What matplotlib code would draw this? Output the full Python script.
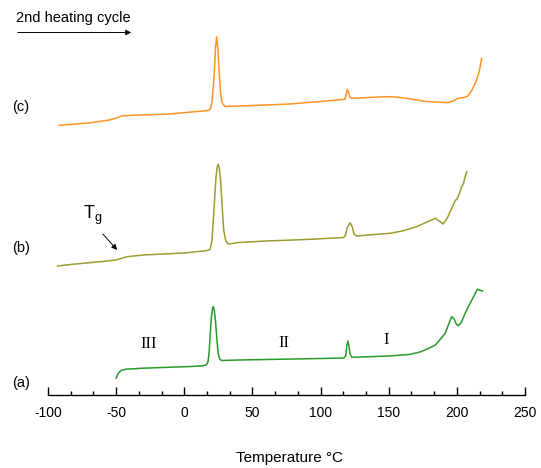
import matplotlib
matplotlib.use("Agg")
import matplotlib.pyplot as plt
from matplotlib.ticker import MultipleLocator

plt.rcParams['font.family'] = ['Liberation Sans', 'DejaVu Sans']

# Curve (a) - green
temp_a = [-50, -48.5, -46.5, -43, -30, -10, 5, 14,
          16.5, 17.5, 18.3, 18.9, 19.9, 20.7, 21.3, 22.0, 22.9, 23.8, 24.8, 26.0, 27.4,
          40, 60, 80, 100, 117,
          118.5, 119.2, 120, 120.8, 121.6, 123,
          130, 150, 165, 173, 179, 184.3, 188, 191.6, 194, 196.2, 198, 199.5, 201,
          203, 207.2, 211, 215, 216.5, 218.9]
sig_a = [15, 19.5, 22.5, 23.8, 24.8, 25.8, 26.5, 27.3,
         28.5, 32, 42, 56, 76, 84.5, 86.3, 83, 72, 56, 40, 34, 32.5,
         33, 33.5, 34, 34.5, 35,
         37, 47, 52, 47, 39, 35.7,
         36, 37, 38.5, 41, 44.5, 48, 54, 60, 69, 76.3, 74, 69, 67.3,
         70, 83, 93, 103.7, 103, 102]

# Curve (b) - olive
temp_b = [-93, -80, -60, -50, -42, -30, 0, 16,
          18.9, 20.3, 21.9, 23.2, 24.2, 24.9, 25.7, 26.7, 27.8, 29, 30.5, 32.3,
          40, 60, 80, 97, 110, 117,
          118.3, 119.5, 121.6, 123.3, 124.5, 126.5,
          140, 151, 160, 170.5, 178, 184.3, 187, 190, 193, 195, 197.4, 199, 200,
          202.3, 203.5, 205, 206, 207.2]
sig_b = [127, 129, 131.5, 133, 136.3, 138, 140, 142.3,
         143.5, 152, 186, 215, 226, 228.7, 225, 212, 186, 162, 152, 149,
         150.5, 152, 153, 154, 155, 155.5,
         158, 165, 170.3, 166, 159, 157,
         158.5, 159.7, 162, 166.3, 171, 174.7, 172, 169, 175, 181, 188, 193, 193.5,
         201.3, 206, 210, 216, 221.3]

# Curve (c) - orange
temp_c = [-92, -70, -55, -50, -45, -30, -10.5, 5, 16.4,
          18.9, 20.3, 21.2, 22.0, 22.9, 23.8, 24.6, 25.7, 26.6, 27.8, 29.9,
          50, 77.5, 100, 117.9,
          118.5, 119.6, 120.6, 121.5, 122.8,
          135, 148.5, 155, 163, 175, 180.6, 193.7, 197, 201, 205.9, 208, 210.8,
          212.5, 214.5, 216.5, 218.2]
sig_c = [267.7, 270, 273, 275, 277.3, 278, 279, 281, 282.3,
         283.5, 290, 305, 320, 345, 356.3, 345, 320, 300, 290, 286.5,
         287.5, 289, 291.5, 293.7,
         297, 303.7, 300, 296, 294.7,
         295.5, 296.3, 296, 294.7, 292, 291.3, 290.3, 292, 294.7, 295.7, 297, 302.3,
         307, 313, 322, 334.7]

series_colors = ['#2a9a2a', '#9c9c30', '#ff9422']
curve_labels = ['(a)', '(b)', '(c)']
xticks = [-100, -50, 0, 50, 100, 150, 200, 250]

fig = plt.figure(figsize=(5.41, 4.68), dpi=100)
ax = fig.add_axes([48/541, (468-395)/468, 477/541, 395/468])
ax.set_xlim(-100, 250)
ax.set_ylim(-2, 393)

for t, s, c in zip([temp_a, temp_b, temp_c], [sig_a, sig_b, sig_c], series_colors):
    ax.plot(t, s, color=c, lw=1.1, solid_joinstyle='round')

for sp in ['left', 'right', 'top']:
    ax.spines[sp].set_visible(False)
ax.spines['bottom'].set_linewidth(1.0)
ax.set_yticks([])
ax.set_xticks(xticks)
ax.set_xticklabels([str(v) for v in xticks], fontsize=10)
ax.xaxis.set_minor_locator(MultipleLocator(50/3))
ax.tick_params(axis='x', which='major', direction='in', length=6, width=1, pad=8)
ax.tick_params(axis='x', which='minor', direction='in', length=3, width=1)


def px(x, y):
    return (x/541, 1 - y/468)


fig.text(*px(12, 383), curve_labels[0], fontsize=10.5, va='center', ha='left')
fig.text(*px(12, 248), curve_labels[1], fontsize=10.5, va='center', ha='left')
fig.text(*px(12, 107), curve_labels[2], fontsize=10.5, va='center', ha='left')

for txt, x, y in [('III', 149, 344), ('II', 284, 343), ('I', 386, 340)]:
    fig.text(*px(x, y), txt, fontsize=12, family='Liberation Serif', ha='center', va='center')

fig.text(*px(83, 215), r'$\mathregular{T_g}$', fontsize=13, ha='left', va='center')
ax.annotate('', xy=px(119, 252), xycoords='figure fraction',
            xytext=px(101, 232), textcoords='figure fraction',
            arrowprops=dict(arrowstyle='-|>', lw=0.7, color='black', mutation_scale=8))

fig.text(*px(16, 18), '2nd heating cycle', fontsize=10.5, ha='left', va='center')
ax.annotate('', xy=px(134, 32.5), xycoords='figure fraction',
            xytext=px(15, 32.5), textcoords='figure fraction',
            arrowprops=dict(arrowstyle='-|>', lw=0.7, color='black', mutation_scale=8))

fig.text(*px(290, 458), 'Temperature °C', fontsize=11, ha='center', va='center')

fig.savefig('out.png', dpi=100)
